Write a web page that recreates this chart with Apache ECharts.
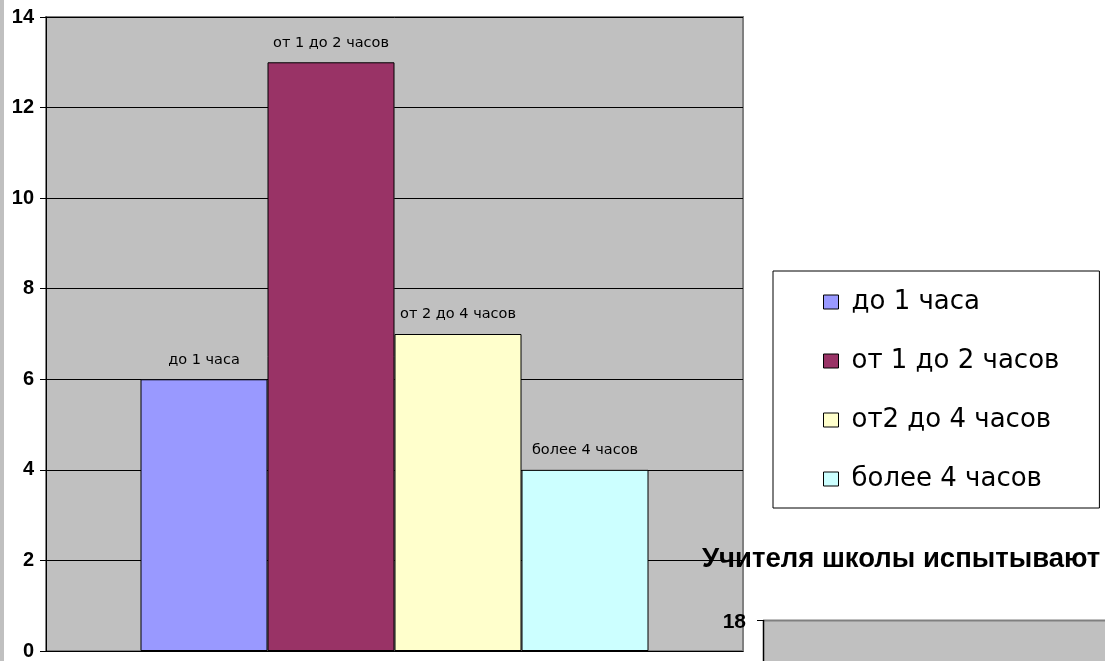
<!DOCTYPE html>
<html>
<head>
<meta charset="utf-8">
<script src="https://cdn.jsdelivr.net/npm/echarts@6/dist/echarts.min.js"></script>
<style>
html,body{margin:0;padding:0;background:#fff;overflow:hidden;}
#chart{width:1105px;height:661px;}
</style>
</head>
<body>
<div id="chart"></div>
<script>
const categories = [''];
const seriesNames = ['до 1 часа', 'от 1 до 2 часов', 'от2 до 4 часов', 'более 4 часов'];
const barLabels = ['до 1 часа', 'от 1 до 2 часов', 'от 2 до 4 часов', 'более 4 часов'];
const values = [6, 13, 7, 4];
const colors = ['#9999FF', '#993366', '#FFFFCC', '#CCFFFF'];
const yTicks = [0, 2, 4, 6, 8, 10, 12, 14];
const secondTitle = 'Учителя школы испытывают';
const secondTick = '18';

const chart = echarts.init(document.getElementById('chart'), null, {renderer: 'canvas'});

const series = seriesNames.map((name, i) => ({
  name: name,
  type: 'bar',
  data: [values[i]],
  barWidth: 127,
  barGap: '0%',
  itemStyle: {color: colors[i], borderColor: '#000', borderWidth: 1},
  label: {
    show: true,
    position: 'top',
    distance: 12,
    formatter: barLabels[i],
    fontFamily: 'DejaVu Sans',
    fontSize: 14.5,
    color: '#000'
  }
}));

chart.setOption({
  animation: false,
  backgroundColor: '#fff',
  grid: {
    left: 46, top: 17, right: 362, bottom: 9,
    show: true, backgroundColor: '#C0C0C0', borderColor: '#808080', borderWidth: 2
  },
  legend: {
    orient: 'vertical',
    left: 773, top: 271,
    padding: [18, 40, 16, 50],
    backgroundColor: '#fff',
    borderColor: '#000',
    borderWidth: 1,
    itemWidth: 15, itemHeight: 14,
    itemGap: 33,
    icon: 'rect',
    textStyle: {fontFamily: 'DejaVu Sans', fontSize: 26, color: '#000', padding: [0, 0, 0, 8]},
    itemStyle: {borderColor: '#000', borderWidth: 1},
    data: seriesNames
  },
  xAxis: {
    type: 'category',
    data: categories,
    axisLine: {show: true, lineStyle: {color: '#000', width: 1}},
    axisTick: {show: false},
    axisLabel: {show: false},
    splitLine: {show: false}
  },
  yAxis: {
    type: 'value',
    min: yTicks[0], max: yTicks[yTicks.length - 1], interval: 2,
    axisLine: {show: true, lineStyle: {color: '#000', width: 1}},
    axisTick: {show: true, length: 6, lineStyle: {color: '#000'}},
    axisLabel: {
      margin: 12,
      fontFamily: 'Liberation Sans', fontWeight: 'bold', fontSize: 20, color: '#000'
    },
    splitLine: {show: true, lineStyle: {color: '#000', width: 1}}
  },
  graphic: [
    {type: 'rect', left: 0, top: 0, shape: {width: 4, height: 661}, style: {fill: '#C0C0C0'}, z: 10},
    {type: 'rect', left: 763, top: 620, shape: {width: 342, height: 41}, style: {fill: '#C0C0C0'}, z: 10},
    {type: 'line', shape: {x1: 763, y1: 620.5, x2: 1105, y2: 620.5}, style: {stroke: '#808080', lineWidth: 2}, z: 11},
    {type: 'line', shape: {x1: 763.5, y1: 620, x2: 763.5, y2: 661}, style: {stroke: '#000', lineWidth: 1.5}, z: 11},
    {type: 'line', shape: {x1: 757, y1: 620.5, x2: 763, y2: 620.5}, style: {stroke: '#000', lineWidth: 1}, z: 11},
    {type: 'text', z: 12, style: {
      text: secondTick, x: 746, y: 622, align: 'right', verticalAlign: 'middle',
      font: 'bold 21px "Liberation Sans"', fill: '#000'
    }},
    {type: 'text', z: 12, style: {
      text: secondTitle, x: 702, y: 559, align: 'left', verticalAlign: 'middle',
      font: 'bold 27.5px "Liberation Sans"', fill: '#000'
    }}
  ],
  series: series
});
</script>
</body>
</html>
